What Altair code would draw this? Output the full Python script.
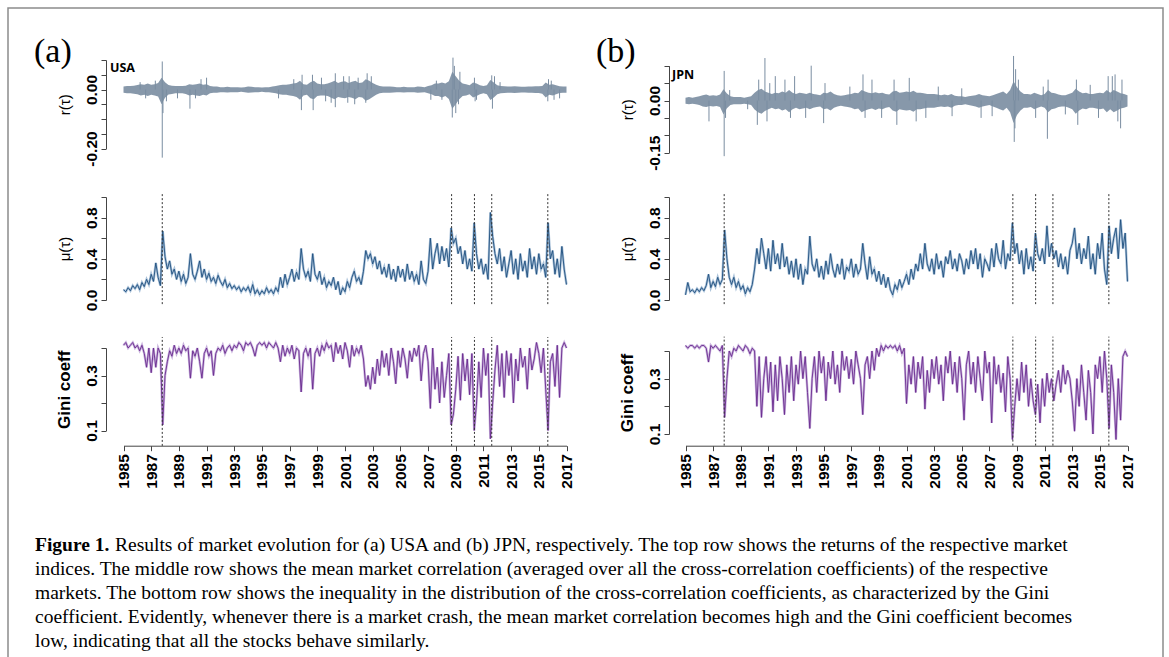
import altair as alt
import pandas as pd

# ---------------- data ----------------
CRASHES = [1987.8, 2008.7, 2010.35, 2011.6, 2015.65]
YEAR_TICKS = list(range(1985, 2018, 2))

# mean market correlation, 6 samples per year (1985.0 ... 2017.0)
MU_USA = [
    0.10, 0.08, 0.12, 0.09, 0.14, 0.11,
    0.15, 0.10, 0.17, 0.13, 0.20, 0.15,
    0.25, 0.18, 0.36, 0.22, 0.14, 0.67,
    0.42, 0.30, 0.38, 0.25, 0.30, 0.20,
    0.28, 0.18, 0.25, 0.16, 0.22, 0.45,
    0.25, 0.20, 0.28, 0.38, 0.22, 0.30,
    0.20, 0.26, 0.18, 0.22, 0.16, 0.24,
    0.18, 0.14, 0.20, 0.12, 0.16, 0.11,
    0.14, 0.10, 0.13, 0.08, 0.12, 0.09,
    0.13, 0.07, 0.15, 0.06, 0.10, 0.05,
    0.09, 0.06, 0.12, 0.07, 0.10, 0.06,
    0.12, 0.08, 0.22, 0.12, 0.25, 0.15,
    0.22, 0.30, 0.18, 0.27, 0.20, 0.50,
    0.30, 0.22, 0.28, 0.18, 0.45, 0.25,
    0.20, 0.28, 0.15, 0.22, 0.12, 0.18,
    0.14, 0.22, 0.10, 0.18, 0.05, 0.12,
    0.08, 0.18, 0.12, 0.22, 0.28, 0.18,
    0.22, 0.15, 0.28, 0.48, 0.40, 0.45,
    0.35, 0.42, 0.30, 0.38, 0.25, 0.32,
    0.22, 0.35, 0.20, 0.30, 0.18, 0.33,
    0.22, 0.30, 0.18, 0.35, 0.20, 0.28,
    0.18, 0.25, 0.15, 0.38, 0.20, 0.16,
    0.28, 0.60, 0.30, 0.45, 0.55, 0.35,
    0.52, 0.38, 0.50, 0.32, 0.70, 0.55,
    0.60, 0.45, 0.52, 0.35, 0.48, 0.30,
    0.40, 0.28, 0.75, 0.45, 0.30, 0.40,
    0.25, 0.35, 0.20, 0.85, 0.62, 0.45,
    0.35, 0.50, 0.28, 0.42, 0.22, 0.35,
    0.48, 0.25, 0.40, 0.20, 0.45, 0.28,
    0.38, 0.22, 0.50, 0.30, 0.42, 0.25,
    0.45, 0.30, 0.35, 0.22, 0.75, 0.40,
    0.48, 0.25, 0.40, 0.22, 0.52, 0.30,
    0.15,
]
GINI_USA = [
    0.41, 0.42, 0.40, 0.41, 0.42, 0.40,
    0.41, 0.39, 0.41, 0.38, 0.33, 0.40,
    0.31, 0.40, 0.33, 0.40, 0.38, 0.12,
    0.30, 0.35, 0.39, 0.37, 0.41, 0.38,
    0.40, 0.38, 0.41, 0.39, 0.40, 0.29,
    0.39, 0.37, 0.40, 0.35, 0.29, 0.38,
    0.40, 0.37, 0.39, 0.30, 0.38, 0.40,
    0.39, 0.41, 0.38, 0.40, 0.41, 0.39,
    0.41, 0.40, 0.42, 0.41, 0.39, 0.42,
    0.41, 0.42, 0.40, 0.37, 0.41, 0.42,
    0.41, 0.42, 0.40, 0.42, 0.41, 0.40,
    0.42, 0.40, 0.35, 0.41, 0.37, 0.40,
    0.38, 0.41, 0.36, 0.40, 0.39, 0.24,
    0.38, 0.40, 0.37, 0.40, 0.25, 0.38,
    0.40, 0.37, 0.41, 0.39, 0.42, 0.40,
    0.41, 0.35, 0.42, 0.38, 0.41, 0.36,
    0.42, 0.39, 0.33, 0.41, 0.37, 0.40,
    0.38, 0.41, 0.36, 0.26, 0.30, 0.25,
    0.33, 0.27, 0.36, 0.30, 0.39, 0.33,
    0.38, 0.30, 0.40, 0.35, 0.27, 0.39,
    0.33, 0.40, 0.36, 0.29, 0.39, 0.35,
    0.40, 0.37, 0.41, 0.28, 0.38, 0.41,
    0.35, 0.18, 0.40, 0.25, 0.33, 0.20,
    0.35, 0.22, 0.30, 0.38, 0.12, 0.16,
    0.25, 0.37, 0.21, 0.38, 0.28, 0.36,
    0.23, 0.38, 0.10, 0.20, 0.35, 0.22,
    0.40, 0.30, 0.38, 0.07, 0.20, 0.32,
    0.41, 0.26, 0.38, 0.22, 0.39, 0.30,
    0.38, 0.20, 0.36, 0.28, 0.40, 0.33,
    0.37, 0.25, 0.40, 0.32, 0.36, 0.42,
    0.38, 0.31, 0.40, 0.25, 0.10, 0.35,
    0.38, 0.26, 0.41, 0.22, 0.40, 0.42,
    0.40,
]
MU_JPN = [
    0.05, 0.17, 0.08, 0.10, 0.07, 0.11,
    0.08, 0.12, 0.09, 0.14, 0.25, 0.12,
    0.18, 0.13, 0.22, 0.15, 0.20, 0.68,
    0.40, 0.22, 0.15, 0.22, 0.12, 0.18,
    0.10, 0.14, 0.06, 0.12, 0.08, 0.15,
    0.30, 0.50, 0.35, 0.60, 0.45, 0.30,
    0.50, 0.28, 0.58, 0.35, 0.45, 0.30,
    0.55, 0.32, 0.42, 0.25, 0.38, 0.22,
    0.40, 0.20, 0.35, 0.15, 0.30, 0.25,
    0.62, 0.35, 0.28, 0.40, 0.22, 0.33,
    0.20, 0.38, 0.25, 0.45, 0.30, 0.22,
    0.35, 0.25, 0.40, 0.20, 0.32, 0.28,
    0.40, 0.22, 0.35, 0.25, 0.30, 0.55,
    0.35, 0.20, 0.42, 0.25, 0.30, 0.18,
    0.28, 0.15, 0.25, 0.12, 0.22, 0.10,
    0.05, 0.15, 0.10, 0.20, 0.12, 0.18,
    0.25, 0.15, 0.30, 0.20, 0.35, 0.28,
    0.45, 0.30, 0.55, 0.35, 0.28, 0.40,
    0.25, 0.45, 0.30, 0.38, 0.22, 0.42,
    0.35, 0.48, 0.30, 0.40, 0.28, 0.45,
    0.38, 0.25, 0.40, 0.30, 0.48, 0.35,
    0.50, 0.30, 0.45, 0.22, 0.40, 0.35,
    0.28, 0.50, 0.32, 0.55, 0.40, 0.35,
    0.58, 0.30, 0.45, 0.38, 0.75, 0.45,
    0.55, 0.35, 0.48, 0.25, 0.50, 0.30,
    0.42, 0.28, 0.65, 0.45, 0.38, 0.50,
    0.35, 0.72, 0.42, 0.55, 0.40, 0.48,
    0.32, 0.45, 0.30, 0.42, 0.25, 0.48,
    0.55, 0.70, 0.40, 0.55, 0.35, 0.50,
    0.40, 0.62, 0.30, 0.45, 0.25, 0.55,
    0.40, 0.65, 0.30, 0.15, 0.72, 0.45,
    0.60, 0.70, 0.40, 0.78, 0.50, 0.65,
    0.18,
]
GINI_JPN = [
    0.42, 0.41, 0.42, 0.42, 0.41, 0.42,
    0.41, 0.42, 0.42, 0.41, 0.36, 0.42,
    0.41, 0.42, 0.41, 0.40, 0.42, 0.16,
    0.30, 0.40, 0.38, 0.41, 0.40, 0.42,
    0.41, 0.40, 0.42, 0.41, 0.39, 0.41,
    0.40, 0.20, 0.38, 0.16, 0.30, 0.38,
    0.25, 0.36, 0.18, 0.35, 0.22, 0.38,
    0.30, 0.17, 0.35, 0.25, 0.38, 0.22,
    0.35, 0.28, 0.40, 0.30, 0.38, 0.25,
    0.12, 0.30, 0.38, 0.25, 0.40, 0.32,
    0.38, 0.22, 0.36, 0.30, 0.40, 0.28,
    0.35, 0.25, 0.40, 0.33, 0.38, 0.30,
    0.37, 0.28, 0.40, 0.35, 0.30, 0.17,
    0.35, 0.38, 0.30, 0.40, 0.33, 0.41,
    0.38, 0.42, 0.40, 0.42, 0.41, 0.42,
    0.41, 0.42, 0.40, 0.42, 0.39, 0.41,
    0.21, 0.35, 0.28, 0.38, 0.25, 0.36,
    0.30, 0.38, 0.19, 0.33, 0.25, 0.37,
    0.30, 0.38, 0.28, 0.35, 0.22, 0.38,
    0.32, 0.40, 0.28, 0.36, 0.25, 0.38,
    0.30, 0.15, 0.35, 0.40, 0.28, 0.36,
    0.25, 0.38, 0.30, 0.22, 0.40, 0.32,
    0.36, 0.14, 0.38, 0.28, 0.35, 0.25,
    0.32, 0.18, 0.38, 0.30, 0.08, 0.20,
    0.30, 0.22, 0.36, 0.25, 0.35, 0.20,
    0.30, 0.22, 0.17, 0.28, 0.14, 0.30,
    0.20, 0.32, 0.25, 0.30, 0.22, 0.28,
    0.33, 0.25, 0.35, 0.28, 0.33, 0.30,
    0.22, 0.11, 0.30, 0.20, 0.35, 0.25,
    0.15, 0.33, 0.25, 0.10, 0.35, 0.30,
    0.38, 0.25, 0.40, 0.30, 0.12, 0.35,
    0.25, 0.08, 0.30, 0.15, 0.38, 0.40,
    0.38,
]

# index returns: quarterly envelope (upper / lower edge of the dense band)
RET_HI_USA = [
    0.010, 0.012, 0.012, 0.013, 0.015, 0.018, 0.016, 0.020,
    0.016, 0.018, 0.022, 0.040, 0.025, 0.015, 0.013, 0.012,
    0.012, 0.012, 0.013, 0.018, 0.016, 0.018, 0.020, 0.016,
    0.018, 0.012, 0.010, 0.010, 0.008, 0.008, 0.009, 0.008,
    0.008, 0.008, 0.007, 0.008, 0.010, 0.009, 0.008, 0.008,
    0.007, 0.008, 0.008, 0.010, 0.012, 0.014, 0.016, 0.016,
    0.018, 0.020, 0.022, 0.030, 0.018, 0.016, 0.025, 0.030,
    0.020, 0.018, 0.018, 0.020, 0.025, 0.030, 0.022, 0.026,
    0.028, 0.022, 0.026, 0.030, 0.022, 0.024, 0.035, 0.030,
    0.022, 0.016, 0.012, 0.010, 0.010, 0.010, 0.009, 0.008,
    0.008, 0.009, 0.008, 0.008, 0.008, 0.010, 0.009, 0.008,
    0.012, 0.014, 0.020, 0.020, 0.024, 0.020, 0.028, 0.060,
    0.045, 0.030, 0.020, 0.018, 0.014, 0.024, 0.020, 0.014,
    0.012, 0.014, 0.032, 0.024, 0.014, 0.012, 0.011, 0.010,
    0.010, 0.011, 0.010, 0.009, 0.009, 0.010, 0.010, 0.011,
    0.011, 0.012, 0.024, 0.016, 0.018, 0.014, 0.011, 0.010,
    0.010,
]
RET_LO_USA = [
    -0.011, -0.013, -0.013, -0.014, -0.016, -0.020, -0.018, -0.022,
    -0.018, -0.020, -0.024, -0.050, -0.028, -0.017, -0.015, -0.013,
    -0.013, -0.013, -0.015, -0.020, -0.018, -0.020, -0.022, -0.018,
    -0.020, -0.013, -0.011, -0.011, -0.009, -0.009, -0.010, -0.009,
    -0.009, -0.009, -0.008, -0.009, -0.011, -0.010, -0.009, -0.009,
    -0.008, -0.009, -0.009, -0.011, -0.013, -0.016, -0.018, -0.018,
    -0.020, -0.022, -0.025, -0.035, -0.020, -0.018, -0.030, -0.033,
    -0.022, -0.020, -0.020, -0.022, -0.028, -0.033, -0.025, -0.028,
    -0.030, -0.025, -0.028, -0.033, -0.025, -0.027, -0.038, -0.033,
    -0.025, -0.018, -0.013, -0.011, -0.011, -0.011, -0.010, -0.009,
    -0.009, -0.010, -0.009, -0.009, -0.009, -0.011, -0.010, -0.009,
    -0.013, -0.016, -0.022, -0.022, -0.027, -0.022, -0.032, -0.065,
    -0.050, -0.033, -0.022, -0.020, -0.016, -0.027, -0.022, -0.016,
    -0.013, -0.016, -0.036, -0.027, -0.016, -0.013, -0.012, -0.011,
    -0.011, -0.012, -0.011, -0.010, -0.010, -0.011, -0.011, -0.012,
    -0.012, -0.014, -0.027, -0.018, -0.020, -0.016, -0.012, -0.011,
    -0.011,
]
RET_HI_JPN = [
    0.008, 0.010, 0.008, 0.010, 0.012, 0.015, 0.017, 0.014,
    0.015, 0.014, 0.017, 0.032, 0.020, 0.012, 0.010, 0.010,
    0.010, 0.008, 0.010, 0.012, 0.022, 0.030, 0.034, 0.026,
    0.022, 0.019, 0.022, 0.021, 0.026, 0.022, 0.030, 0.022,
    0.019, 0.022, 0.021, 0.019, 0.022, 0.019, 0.017, 0.015,
    0.022, 0.021, 0.026, 0.019, 0.015, 0.014, 0.015, 0.017,
    0.019, 0.022, 0.021, 0.030, 0.026, 0.022, 0.021, 0.024,
    0.021, 0.022, 0.019, 0.017, 0.026, 0.028, 0.022, 0.024,
    0.026, 0.024, 0.028, 0.022, 0.022, 0.021, 0.019, 0.019,
    0.019, 0.017, 0.015, 0.017, 0.015, 0.019, 0.014, 0.012,
    0.012, 0.010, 0.012, 0.014, 0.015, 0.019, 0.015, 0.014,
    0.012, 0.015, 0.019, 0.022, 0.026, 0.019, 0.030, 0.055,
    0.038, 0.026, 0.019, 0.019, 0.017, 0.022, 0.019, 0.015,
    0.019, 0.030, 0.022, 0.021, 0.017, 0.015, 0.015, 0.019,
    0.022, 0.034, 0.026, 0.021, 0.022, 0.019, 0.019, 0.021,
    0.022, 0.021, 0.030, 0.022, 0.030, 0.026, 0.021, 0.019,
    0.015,
]
RET_LO_JPN = [
    -0.009, -0.011, -0.009, -0.011, -0.013, -0.017, -0.019, -0.016,
    -0.017, -0.016, -0.019, -0.040, -0.022, -0.013, -0.011, -0.011,
    -0.011, -0.009, -0.011, -0.013, -0.026, -0.034, -0.038, -0.030,
    -0.025, -0.021, -0.025, -0.023, -0.029, -0.025, -0.034, -0.025,
    -0.021, -0.025, -0.023, -0.021, -0.025, -0.021, -0.019, -0.017,
    -0.025, -0.023, -0.029, -0.021, -0.017, -0.015, -0.017, -0.019,
    -0.021, -0.025, -0.023, -0.034, -0.029, -0.025, -0.023, -0.027,
    -0.023, -0.025, -0.021, -0.019, -0.029, -0.032, -0.025, -0.027,
    -0.029, -0.027, -0.032, -0.025, -0.025, -0.023, -0.021, -0.021,
    -0.021, -0.019, -0.017, -0.019, -0.017, -0.021, -0.015, -0.013,
    -0.013, -0.011, -0.013, -0.015, -0.017, -0.021, -0.017, -0.015,
    -0.013, -0.017, -0.021, -0.025, -0.029, -0.021, -0.034, -0.065,
    -0.042, -0.029, -0.021, -0.021, -0.019, -0.025, -0.021, -0.017,
    -0.021, -0.034, -0.025, -0.023, -0.019, -0.017, -0.017, -0.021,
    -0.025, -0.038, -0.029, -0.023, -0.025, -0.021, -0.021, -0.023,
    -0.025, -0.023, -0.034, -0.025, -0.034, -0.029, -0.023, -0.021,
    -0.017,
]
# isolated large daily returns (date, value)
SPIKE_T_USA = [1986.2, 1986.6, 1987.3, 1987.8, 1987.8, 1987.85, 1988.1, 1988.9, 1989.8,
               1990.2, 1990.6, 1991.0, 1996.2, 1997.3, 1997.85, 1997.9, 1998.65, 1998.7,
               1999.3, 1999.6, 2000.0, 2000.3, 2000.3, 2000.9, 2001.2, 2001.3, 2001.7,
               2001.95, 2002.5, 2002.6, 2002.9, 2007.2, 2007.6, 2008.0, 2008.75, 2008.8,
               2008.9, 2009.0, 2009.2, 2009.3, 2010.35, 2010.4, 2010.5, 2011.6, 2011.65,
               2011.8, 2012.2, 2015.65, 2015.7, 2015.9, 2016.1, 2016.5]
SPIKE_V_USA = [0.025, -0.030, 0.030, 0.095, -0.231, -0.080, -0.040, -0.030, -0.065,
               -0.030, 0.035, 0.040, -0.030, 0.035, -0.070, 0.050, 0.050, -0.070,
               0.040, -0.040, -0.045, 0.055, -0.060, 0.045, -0.045, 0.045, -0.050,
               0.040, -0.045, 0.055, 0.045, -0.035, 0.030, -0.035, -0.095, 0.108,
               0.080, -0.080, -0.050, 0.060, 0.040, -0.040, -0.035, 0.048, -0.065,
               0.045, 0.025, -0.040, 0.035, 0.030, -0.035, -0.030]
SPIKE_T_JPN = [1986.7, 1987.8, 1987.8, 1987.9, 1988.2, 1989.5, 1990.2, 1990.3, 1990.75,
               1990.9, 1991.1, 1991.5, 1992.2, 1992.6, 1992.9, 1993.7, 1994.1, 1995.0,
               1995.1, 1996.9, 1997.85, 1998.0, 1998.5, 1999.2, 2000.1, 2000.3, 2001.2,
               2001.7, 2002.4, 2003.3, 2004.3, 2005.0, 2006.4, 2007.2, 2008.75, 2008.8,
               2008.85, 2008.9, 2009.1, 2010.35, 2010.9, 2011.2, 2011.25, 2012.5, 2013.3,
               2013.4, 2014.3, 2014.9, 2015.6, 2015.9, 2016.1, 2016.3, 2016.5, 2016.6]
SPIKE_V_JPN = [-0.060, 0.085, -0.160, -0.050, 0.030, -0.025, -0.070, 0.060, 0.122,
               -0.060, 0.050, 0.070, 0.060, -0.050, 0.070, -0.050, 0.100, -0.065,
               0.050, 0.040, 0.075, -0.050, 0.060, -0.050, 0.060, -0.070, 0.065,
               -0.060, -0.050, 0.040, -0.045, 0.035, -0.050, -0.045, 0.128, -0.119,
               -0.080, 0.090, 0.060, -0.050, 0.040, -0.110, 0.060, -0.040, 0.060,
               -0.070, 0.045, -0.050, 0.070, 0.070, 0.075, -0.060, -0.080, 0.060]

PANEL_LABELS = ["(a)", "(b)"]
MARKETS = ["USA", "JPN"]
CAPTION_BOLD = "Figure 1."
CAPTION_LINES = [
    "Results of market evolution for (a) USA and (b) JPN, respectively. The top row shows the returns of the respective market",
    "indices. The middle row shows the mean market correlation (averaged over all the cross-correlation coefficients) of the respective",
    "markets. The bottom row shows the inequality in the distribution of the cross-correlation coefficients, as characterized by the Gini",
    "coefficient. Evidently, whenever there is a market crash, the mean market correlation becomes high and the Gini coefficient becomes",
    "low, indicating that all the stocks behave similarly.",
]

# ---------------- layout / style ----------------
W, H = 1169, 657
RET_COLOR = "#7a8da1"
MU_COLOR, MU_HALO = "#1f4f7e", "#93b2cf"
GINI_COLOR, GINI_HALO = "#6a2a8e", "#bca0d4"
AXIS_COLOR = "#444444"
SANS = "Liberation Sans"
XAXIS_Y = 445.7
TICK_FONT = 15.5

PANELS = [
    dict(ax=106, x0=123.5, x1=566.5,
         r_dom=[-0.20, 0.10], r_rng=[148.5, 60.0],
         r_ticks=[-0.20, -0.15, -0.10, -0.05, 0.0, 0.05, 0.10],
         r_labels="abs(datum.value) < 1e-9 ? '0.00' : (abs(datum.value + 0.2) < 1e-9 ? '-0.20' : '')",
         m_rng=[300.0, 197.0], g_rng=[430.5, 348.0], g_lo=0.044, g_hi=0.44,
         label_x=34, label_y=52, mk_x=110, mk_y=68),
    dict(ax=669, x0=685.5, x1=1127.5,
         r_dom=[-0.15, 0.10], r_rng=[152.7, 65.7],
         r_ticks=[-0.15, -0.10, -0.05, 0.0, 0.05, 0.10],
         r_labels="abs(datum.value) < 1e-9 ? '0.00' : (abs(datum.value + 0.15) < 1e-9 ? '-0.15' : '')",
         m_rng=[300.0, 197.0], g_rng=[434.0, 351.0], g_lo=0.058, g_hi=0.452,
         label_x=596, label_y=52, mk_x=672, mk_y=75),
]


def lin(dom, rng):
    return alt.Scale(domain=dom, range=rng, zero=False, nice=False)


def yaxis(cfg, values, label_expr, title, rng, weight, tsize):
    return alt.Axis(
        orient="left", offset=-cfg["ax"], values=values, labelExpr=label_expr,
        title=title, titleX=-42, titleY=(rng[0] + rng[1]) / 2, titleAngle=270,
        titleAlign="center", titleBaseline="middle", titleFont=SANS,
        titleFontSize=tsize, titleFontWeight=weight, titleColor="black",
        labelAngle=270, labelAlign="center", labelBaseline="bottom",
        labelFont=SANS, labelFontSize=TICK_FONT, labelFontWeight="bold", labelColor="black",
        labelPadding=2, labelOverlap=False, labelFlush=False,
        tickSize=5, tickColor=AXIS_COLOR, domainColor=AXIS_COLOR, grid=False,
    )


def text_layer(s, x, y, font, size, weight="normal", align="left"):
    return alt.Chart(pd.DataFrame({"s": [s]})).mark_text(
        font=font, fontSize=size, fontWeight=weight, align=align, baseline="middle",
        color="black").encode(x=alt.value(x), y=alt.value(y), text="s:N")


def panel_layers(cfg, mu, gini, r_hi, r_lo, sp_t, sp_v):
    xs = lin([1985, 2017], [cfg["x0"], cfg["x1"]])
    ys_r = lin(cfg["r_dom"], cfg["r_rng"])
    ys_m = lin([0, 1], cfg["m_rng"])
    ys_g = lin([0.1, 0.4], cfg["g_rng"])
    t6 = [1985 + i / 6 for i in range(len(mu))]
    tq = [1985 + i / 4 for i in range(len(r_hi))]
    df_m = pd.DataFrame({"t": t6, "v": mu})
    df_g = pd.DataFrame({"t": t6, "v": gini})
    df_r = pd.DataFrame({"t": tq, "lo": r_lo, "hi": r_hi})
    df_s = pd.DataFrame({"t": sp_t, "v": sp_v})
    df_c = pd.DataFrame({"t": CRASHES})
    xn = alt.X("t:Q", scale=xs, axis=None)
    layers = []
    # returns
    layers.append(alt.Chart(df_r).mark_area(color=RET_COLOR, opacity=0.9).encode(
        x=xn,
        y=alt.Y("lo:Q", scale=ys_r, axis=yaxis(cfg, cfg["r_ticks"], cfg["r_labels"], "r(τ)",
                                                cfg["r_rng"], "normal", 15)),
        y2="hi:Q"))
    layers.append(alt.Chart(df_s).mark_rule(color=RET_COLOR, strokeWidth=1).encode(
        x=xn, y=alt.Y("v:Q", scale=ys_r, axis=None), y2=alt.Y2Datum(0)))
    # mean correlation
    layers.append(alt.Chart(df_m).mark_line(color=MU_HALO, strokeWidth=2.4, opacity=0.8).encode(
        x=xn,
        y=alt.Y("v:Q", scale=ys_m, axis=yaxis(
            cfg, [0, 0.2, 0.4, 0.6, 0.8, 1.0],
            "(round(datum.value * 10) % 4 == 0) ? format(datum.value, '.1f') : ''",
            "μ(τ)", cfg["m_rng"], "normal", 15))))
    layers.append(alt.Chart(df_m).mark_line(color=MU_COLOR, strokeWidth=0.9).encode(
        x=xn, y=alt.Y("v:Q", scale=ys_m, axis=None)))
    layers.append(alt.Chart(df_c).mark_rule(color="#333333", strokeWidth=1, strokeDash=[2, 2]).encode(
        x=xn, y=alt.YDatum(-0.04, scale=ys_m, axis=None), y2=alt.Y2Datum(1.04)))
    # gini
    xaxis = alt.Axis(
        orient="bottom", offset=XAXIS_Y - H, values=YEAR_TICKS, format="d", title=None,
        labelAngle=270, labelAlign="right", labelBaseline="middle", labelFont=SANS,
        labelFontSize=TICK_FONT, labelFontWeight="bold", labelColor="black", labelPadding=3,
        labelOverlap=False, labelFlush=False, tickSize=5, tickColor=AXIS_COLOR,
        domainColor=AXIS_COLOR, grid=False)
    layers.append(alt.Chart(df_g).mark_line(color=GINI_HALO, strokeWidth=2.4, opacity=0.8).encode(
        x=alt.X("t:Q", scale=xs, axis=xaxis),
        y=alt.Y("v:Q", scale=ys_g, axis=yaxis(
            cfg, [0.1, 0.2, 0.3, 0.4],
            "(round(datum.value * 10) % 2 == 1) ? format(datum.value, '.1f') : ''",
            "Gini coeff", cfg["g_rng"], "bold", 17))))
    layers.append(alt.Chart(df_g).mark_line(color=GINI_COLOR, strokeWidth=0.9).encode(
        x=xn, y=alt.Y("v:Q", scale=ys_g, axis=None)))
    layers.append(alt.Chart(df_c).mark_rule(color="#333333", strokeWidth=1, strokeDash=[2, 2]).encode(
        x=xn, y=alt.YDatum(cfg["g_lo"], scale=ys_g, axis=None), y2=alt.Y2Datum(cfg["g_hi"])))
    return layers


layers = [
    alt.Chart(pd.DataFrame({"a": [0]})).mark_rect(
        filled=False, stroke="#8c8c8c", strokeWidth=1.5).encode(
        x=alt.value(8), x2=alt.value(1163), y=alt.value(8), y2=alt.value(720))
]
series = [
    (MU_USA, GINI_USA, RET_HI_USA, RET_LO_USA, SPIKE_T_USA, SPIKE_V_USA),
    (MU_JPN, GINI_JPN, RET_HI_JPN, RET_LO_JPN, SPIKE_T_JPN, SPIKE_V_JPN),
]
for cfg, s, lab, mk in zip(PANELS, series, PANEL_LABELS, MARKETS):
    layers += panel_layers(cfg, *s)
    layers.append(text_layer(lab, cfg["label_x"], cfg["label_y"], "Liberation Serif", 34))
    layers.append(text_layer(mk, cfg["mk_x"], cfg["mk_y"], "Open Sans", 12.5, "bold"))

CAP_X, CAP_Y0, CAP_DY, CAP_SIZE = 35, 545, 24, 19.5
layers.append(text_layer(CAPTION_BOLD, CAP_X, CAP_Y0, "Liberation Serif", CAP_SIZE, "bold"))
for i, line in enumerate(CAPTION_LINES):
    x = CAP_X + 80 if i == 0 else CAP_X
    layers.append(text_layer(line, x, CAP_Y0 + i * CAP_DY, "Liberation Serif", CAP_SIZE))

chart = alt.layer(*layers).resolve_scale(x="independent", y="independent").properties(
    width=W, height=H, padding=0, autosize=alt.AutoSizeParams(type="none")
).configure_view(stroke=None)

chart.save("out.html", embed_options={"renderer": "svg", "actions": False})
